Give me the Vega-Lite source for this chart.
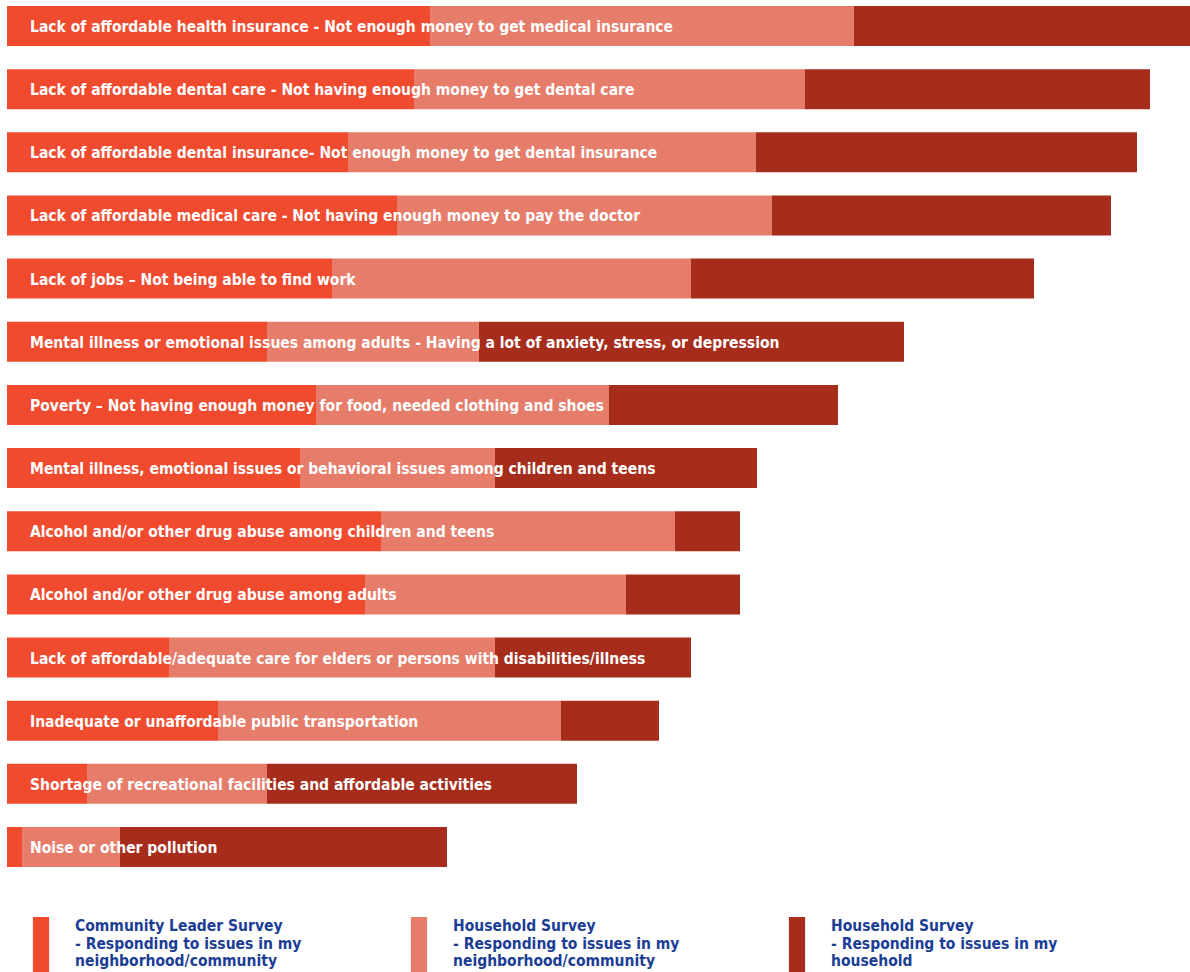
{
  "$schema": "https://vega.github.io/schema/vega-lite/v6.json",
  "width": 1183,
  "height": 861,
  "padding": {"left": 7, "top": 6, "right": 0, "bottom": 0},
  "background": "white",
  "config": {"view": {"stroke": null}, "font": "Liberation Sans Narrow, DejaVu Sans Condensed, Roboto Condensed, Roboto"},
  "data": {"values": [
    {"issue": "Lack of affordable health insurance - Not enough money to get medical insurance", "survey": "Community Leader Survey", "value": 423},
    {"issue": "Lack of affordable health insurance - Not enough money to get medical insurance", "survey": "Household Survey - community", "value": 424},
    {"issue": "Lack of affordable health insurance - Not enough money to get medical insurance", "survey": "Household Survey - household", "value": 336},
    {"issue": "Lack of affordable dental care - Not having enough money to get dental care", "survey": "Community Leader Survey", "value": 407},
    {"issue": "Lack of affordable dental care - Not having enough money to get dental care", "survey": "Household Survey - community", "value": 391},
    {"issue": "Lack of affordable dental care - Not having enough money to get dental care", "survey": "Household Survey - household", "value": 345},
    {"issue": "Lack of affordable dental insurance- Not enough money to get dental insurance", "survey": "Community Leader Survey", "value": 341},
    {"issue": "Lack of affordable dental insurance- Not enough money to get dental insurance", "survey": "Household Survey - community", "value": 408},
    {"issue": "Lack of affordable dental insurance- Not enough money to get dental insurance", "survey": "Household Survey - household", "value": 381},
    {"issue": "Lack of affordable medical care - Not having enough money to pay the doctor", "survey": "Community Leader Survey", "value": 390},
    {"issue": "Lack of affordable medical care - Not having enough money to pay the doctor", "survey": "Household Survey - community", "value": 375},
    {"issue": "Lack of affordable medical care - Not having enough money to pay the doctor", "survey": "Household Survey - household", "value": 339},
    {"issue": "Lack of jobs – Not being able to find work", "survey": "Community Leader Survey", "value": 325},
    {"issue": "Lack of jobs – Not being able to find work", "survey": "Household Survey - community", "value": 359},
    {"issue": "Lack of jobs – Not being able to find work", "survey": "Household Survey - household", "value": 343},
    {"issue": "Mental illness or emotional issues among adults - Having a lot of anxiety, stress, or depression", "survey": "Community Leader Survey", "value": 260},
    {"issue": "Mental illness or emotional issues among adults - Having a lot of anxiety, stress, or depression", "survey": "Household Survey - community", "value": 212},
    {"issue": "Mental illness or emotional issues among adults - Having a lot of anxiety, stress, or depression", "survey": "Household Survey - household", "value": 425},
    {"issue": "Poverty – Not having enough money for food, needed clothing and shoes", "survey": "Community Leader Survey", "value": 309},
    {"issue": "Poverty – Not having enough money for food, needed clothing and shoes", "survey": "Household Survey - community", "value": 293},
    {"issue": "Poverty – Not having enough money for food, needed clothing and shoes", "survey": "Household Survey - household", "value": 229},
    {"issue": "Mental illness, emotional issues or behavioral issues among children and teens", "survey": "Community Leader Survey", "value": 293},
    {"issue": "Mental illness, emotional issues or behavioral issues among children and teens", "survey": "Household Survey - community", "value": 195},
    {"issue": "Mental illness, emotional issues or behavioral issues among children and teens", "survey": "Household Survey - household", "value": 262},
    {"issue": "Alcohol and/or other drug abuse among children and teens", "survey": "Community Leader Survey", "value": 374},
    {"issue": "Alcohol and/or other drug abuse among children and teens", "survey": "Household Survey - community", "value": 294},
    {"issue": "Alcohol and/or other drug abuse among children and teens", "survey": "Household Survey - household", "value": 65},
    {"issue": "Alcohol and/or other drug abuse among adults", "survey": "Community Leader Survey", "value": 358},
    {"issue": "Alcohol and/or other drug abuse among adults", "survey": "Household Survey - community", "value": 261},
    {"issue": "Alcohol and/or other drug abuse among adults", "survey": "Household Survey - household", "value": 114},
    {"issue": "Lack of affordable/adequate care for elders or persons with disabilities/illness", "survey": "Community Leader Survey", "value": 162},
    {"issue": "Lack of affordable/adequate care for elders or persons with disabilities/illness", "survey": "Household Survey - community", "value": 326},
    {"issue": "Lack of affordable/adequate care for elders or persons with disabilities/illness", "survey": "Household Survey - household", "value": 196},
    {"issue": "Inadequate or unaffordable public transportation", "survey": "Community Leader Survey", "value": 211},
    {"issue": "Inadequate or unaffordable public transportation", "survey": "Household Survey - community", "value": 343},
    {"issue": "Inadequate or unaffordable public transportation", "survey": "Household Survey - household", "value": 98},
    {"issue": "Shortage of recreational facilities and affordable activities", "survey": "Community Leader Survey", "value": 80},
    {"issue": "Shortage of recreational facilities and affordable activities", "survey": "Household Survey - community", "value": 180},
    {"issue": "Shortage of recreational facilities and affordable activities", "survey": "Household Survey - household", "value": 310},
    {"issue": "Noise or other pollution", "survey": "Community Leader Survey", "value": 15},
    {"issue": "Noise or other pollution", "survey": "Household Survey - community", "value": 98},
    {"issue": "Noise or other pollution", "survey": "Household Survey - household", "value": 327}
  ]},
  "encoding": {
    "y": {"field": "issue", "type": "nominal", "sort": null, "axis": null,
          "scale": {"paddingInner": 0.3666, "paddingOuter": 0}}
  },
  "layer": [
    {
      "mark": {"type": "bar"},
      "encoding": {
        "x": {"field": "value", "type": "quantitative", "stack": "zero", "axis": null,
              "scale": {"domain": [0, 1183], "nice": false, "zero": true}},
        "color": {"field": "survey", "type": "nominal",
          "scale": {"domain": ["Community Leader Survey", "Household Survey - community", "Household Survey - household"],
                    "range": ["#F04B2F", "#E67C6A", "#A62C1C"]},
          "legend": {
            "title": null, "orient": "none", "legendX": 6, "legendY": 892,
            "direction": "horizontal", "columns": 3, "gridAlign": "all", "columnPadding": 89,
            "symbolType": "M-0.29,-0.32H0.29V2H-0.29Z", "symbolSize": 3136, "symbolStrokeWidth": 0, "symbolOpacity": 1,
            "labelOffset": 6, "labelFontSize": 15.5, "labelFontWeight": "bold", "labelColor": "#1B3D95",
            "labelBaseline": "middle", "labelLimit": 400, "labelLineHeight": 18,
            "labelExpr": "datum.label == 'Community Leader Survey' ? ['Community Leader Survey', '\u2007- Responding to issues in my', '\u2007\u2007neighborhood/community'] : datum.label == 'Household Survey - community' ? ['Household Survey', '\u2007- Responding to issues in my', '\u2007\u2007neighborhood/community'] : ['Household Survey', '\u2007- Responding to issues in my', '\u2007\u2007household']"
          }
        }
      }
    },
    {
      "transform": [{"filter": "datum.survey == 'Community Leader Survey'"}],
      "mark": {"type": "text", "align": "left", "baseline": "middle", "dx": 23, "dy": 1, "color": "white", "fontSize": 15.5, "fontWeight": "bold"},
      "encoding": {
        "x": {"datum": 0},
        "text": {"field": "issue"}
      }
    }
  ]
}
